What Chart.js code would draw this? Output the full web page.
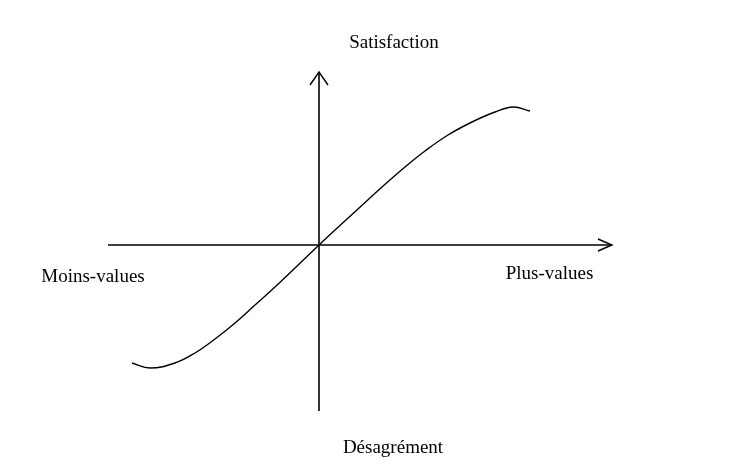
<!DOCTYPE html>
<html>
<head>
<meta charset="utf-8">
<script src="https://cdn.jsdelivr.net/npm/chart.js@4"></script>
<style>
  html, body { margin: 0; padding: 0; background: #fff; }
  #wrap { width: 750px; height: 466px; }
</style>
</head>
<body>
<div id="wrap"><canvas id="c" width="750" height="466"></canvas></div>
<script>
// Curve (value gain/loss vs satisfaction)
const curveX = [-1.87, -1.69, -1.44, -1.24, -1.04, -0.84, -0.64, -0.44, -0.24, 0, 0.16, 0.39, 0.63, 0.86, 1.06, 1.29, 1.53, 1.76, 1.94, 2.11];
const curveY = [-1.18, -1.23, -1.18, -1.08, -0.94, -0.78, -0.60, -0.42, -0.23, 0, 0.15, 0.36, 0.58, 0.78, 0.94, 1.10, 1.23, 1.33, 1.38, 1.34];

// Axes extents
const hAxisX = [-2.11, 2.93];
const vAxisY = [-1.66, 1.73];

// Axis labels
const labelTop = "Satisfaction";
const labelBottom = "Désagrément";
const labelLeft = "Moins-values";
const labelRight = "Plus-values";

const curve = curveX.map((x, i) => ({ x: x, y: curveY[i] }));
const hAxis = [{ x: hAxisX[0], y: 0 }, { x: hAxisX[1], y: 0 }];
const vAxis = [{ x: 0, y: vAxisY[0] }, { x: 0, y: vAxisY[1] }];
const hArrow = [{ x: hAxisX[1] - 0.14, y: 0.06 }, { x: hAxisX[1], y: 0 }, { x: hAxisX[1] - 0.14, y: -0.06 }];
const vArrow = [{ x: -0.09, y: vAxisY[1] - 0.13 }, { x: 0, y: vAxisY[1] }, { x: 0.09, y: vAxisY[1] - 0.13 }];

const lineStyle = { borderColor: '#000', borderWidth: 1.4, pointRadius: 0, fill: false, showLine: true };

const labelPlugin = {
  id: 'axisLabels',
  afterDatasetsDraw(chart) {
    const { ctx, scales: { x, y } } = chart;
    const items = [
      [labelTop, 0.75, 1.97],
      [labelLeft, -2.26, -0.37],
      [labelRight, 2.305, -0.34],
      [labelBottom, 0.74, -2.08]
    ];
    ctx.save();
    ctx.fillStyle = '#000';
    ctx.font = '19px "Liberation Serif", "DejaVu Serif", serif';
    ctx.textAlign = 'center';
    ctx.textBaseline = 'alphabetic';
    items.forEach(([t, dx, dy]) => ctx.fillText(t, x.getPixelForValue(dx), y.getPixelForValue(dy)));
    ctx.restore();
  }
};

new Chart(document.getElementById('c'), {
  type: 'scatter',
  data: {
    datasets: [
      Object.assign({ data: hAxis }, lineStyle, { borderWidth: 1.6 }),
      Object.assign({ data: vAxis }, lineStyle, { borderWidth: 1.6 }),
      Object.assign({ data: hArrow }, lineStyle),
      Object.assign({ data: vArrow }, lineStyle),
      Object.assign({ data: curve, tension: 0.4 }, lineStyle)
    ]
  },
  options: {
    responsive: false,
    animation: false,
    layout: { padding: 0 },
    plugins: { legend: { display: false }, tooltip: { enabled: false } },
    scales: {
      x: { type: 'linear', display: false, min: -3.19, max: 4.31 },
      y: { type: 'linear', display: false, min: -2.21, max: 2.45 }
    }
  },
  plugins: [labelPlugin]
});
</script>
</body>
</html>
